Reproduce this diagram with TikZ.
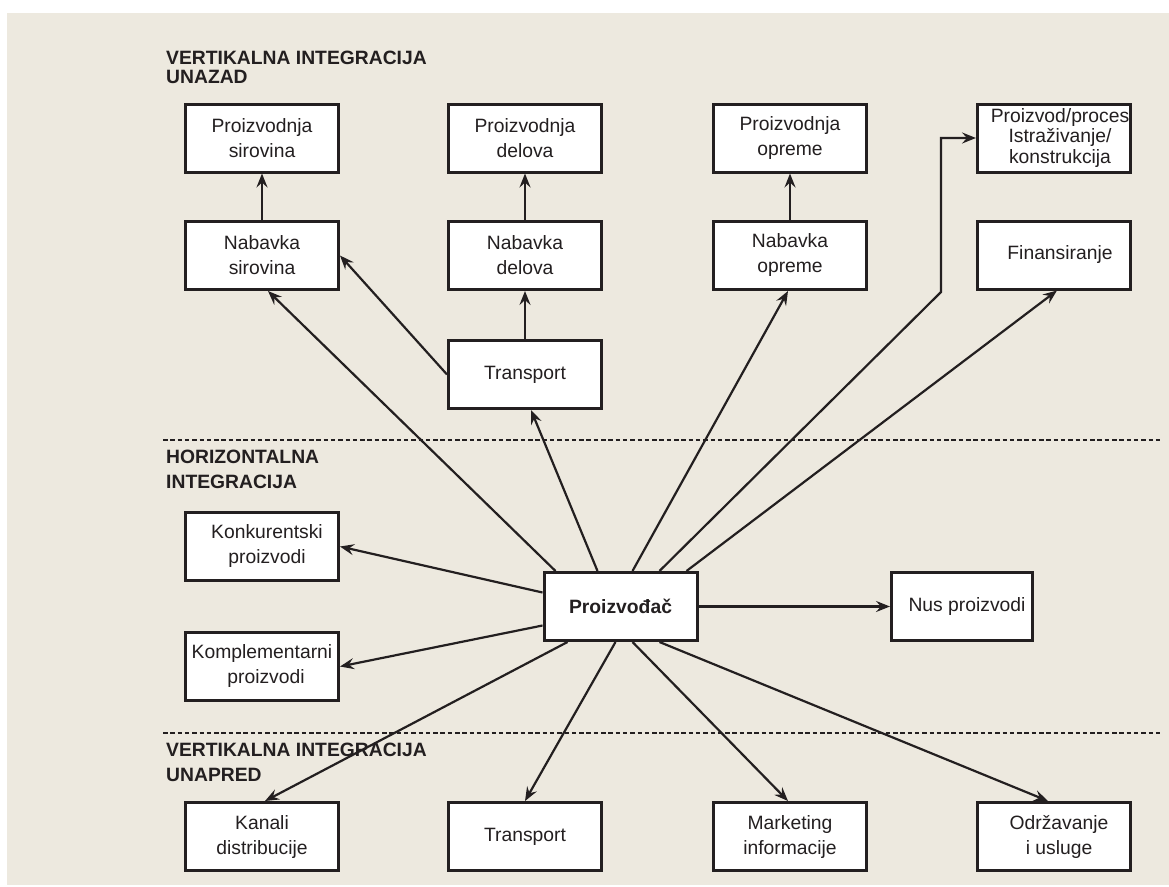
\documentclass[tikz,border=0pt]{standalone}
\usepackage{fontspec}
\setmainfont{Liberation Sans}
\usetikzlibrary{arrows.meta}
\definecolor{bg}{HTML}{EDE9DF}
\definecolor{ink}{HTML}{231F20}
\begin{document}
\begin{tikzpicture}[x=1pt,y=-1pt,
  box/.style={draw=ink, line width=3pt, fill=white, minimum width=153pt,
    minimum height=68pt, inner sep=1pt, align=center, text=ink,
    font=\fontsize{19.3}{25}\selectfont},
  hdr/.style={anchor=north west, align=left, inner sep=0pt, text=ink},
  conn/.style={draw=ink, line width=2.2pt,
    -{Stealth[length=14pt,width=11pt,inset=5pt,fill=white]}},
  sep/.style={draw=ink, line width=2.2pt, dash pattern=on 4.5pt off 2.8pt}]
\useasboundingbox (0,0) rectangle (1169,886);
\fill[white] (0,0) rectangle (1169,886);
\fill[bg] (7,13) rectangle (1169,885);

% section headers
\node[hdr, font=\bfseries\fontsize{19.3}{19}\selectfont] (h1) at (166,51) {VERTIKALNA INTEGRACIJA\\UNAZAD};
\node[hdr, font=\bfseries\fontsize{19.3}{24.5}\selectfont] (h2) at (166,450) {HORIZONTALNA\\INTEGRACIJA};
\node[hdr, font=\bfseries\fontsize{19.3}{25}\selectfont] (h3) at (166,743) {VERTIKALNA INTEGRACIJA\\UNAPRED};

% dashed separators
\draw[sep] (163,440) -- (1160,440);
\draw[sep] (163,733) -- (1160,733);

% boxes
\node[box] (PS) at (262,138) {Proizvodnja\\sirovina};
\node[box] (NS) at (262,255.5) {Nabavka\\sirovina};
\node[box] (PD) at (525,138) {Proizvodnja\\delova};
\node[box] (ND) at (525,255.5) {Nabavka\\delova};
\node[box] (TT) at (525,374.5) {Transport};
\node[box] (PO) at (790,138) {Proizvodnja\\opreme};
\node[box] (NO) at (790,255.5) {Nabavka\\opreme};
\node[box, font=\fontsize{19.3}{20.5}\selectfont] (PP) at (1054,138) {\hspace*{12pt}Proizvod/proces\\\hspace*{12pt}Istraživanje/\\\hspace*{12pt}konstrukcija};
\node[box] (FI) at (1054,255) {\hspace*{12pt}Finansiranje};
\node[box] (KO) at (262,546.5) {\hspace*{10pt}Konkurentski\\\hspace*{10pt}proizvodi};
\node[box] (KM) at (262,666.5) {Komplementarni\\\hspace*{8pt}proizvodi};
\node[box, font=\bfseries\fontsize{19.3}{25}\selectfont] (PR) at (620.5,606.5) {Proizvođač};
\node[box, minimum width=141pt] (NU) at (962,606.5) {\hspace*{10pt}Nus proizvodi};
\node[box] (KD) at (262,836.5) {Kanali\\distribucije};
\node[box] (TB) at (525,836.5) {Transport};
\node[box] (MI) at (790,836.5) {Marketing\\informacije};
\node[box] (OU) at (1054,836.5) {\hspace*{10pt}Održavanje\\\hspace*{10pt}i usluge};

\coordinate (bend) at (941,292);

% connectors in the upper part
\draw[conn] (NS.north) -- (PS.south);
\draw[conn] (ND.north) -- (PD.south);
\draw[conn] (NO.north) -- (PO.south);
\draw[conn] (TT.north) -- (ND.south);
\draw[conn] (TT.west) -- (NS.east);
\draw[conn] ([xshift=13pt]PR.north west) -- ([xshift=6pt]NS.south);
\draw[conn] ([xshift=-23pt]PR.north) -- ([xshift=6pt]TT.south);
\draw[conn] ([xshift=12pt]PR.north) -- ([xshift=-2pt]NO.south);
\draw[conn] ([xshift=-39pt]PR.north east) -- (bend) |- (PP.west);
\draw[conn] ([xshift=-12pt]PR.north east) -- ([xshift=3pt]FI.south);

% horizontal integration
\draw[conn] ([yshift=14pt]PR.west) -- (KO.east);
\draw[conn] ([yshift=-19pt]PR.west) -- (KM.east);
\draw[conn] (PR.east) -- (NU.west);

% forward integration
\draw[conn] ([xshift=25pt]PR.south west) -- ([xshift=3pt]KD.north);
\draw[conn] ([xshift=-5pt]PR.south) -- (TB.north);
\draw[conn] ([xshift=12pt]PR.south) -- ([xshift=-2pt]MI.north);
\draw[conn] ([xshift=-39pt]PR.south east) -- ([xshift=-6pt]OU.north);
\end{tikzpicture}
\end{document}
